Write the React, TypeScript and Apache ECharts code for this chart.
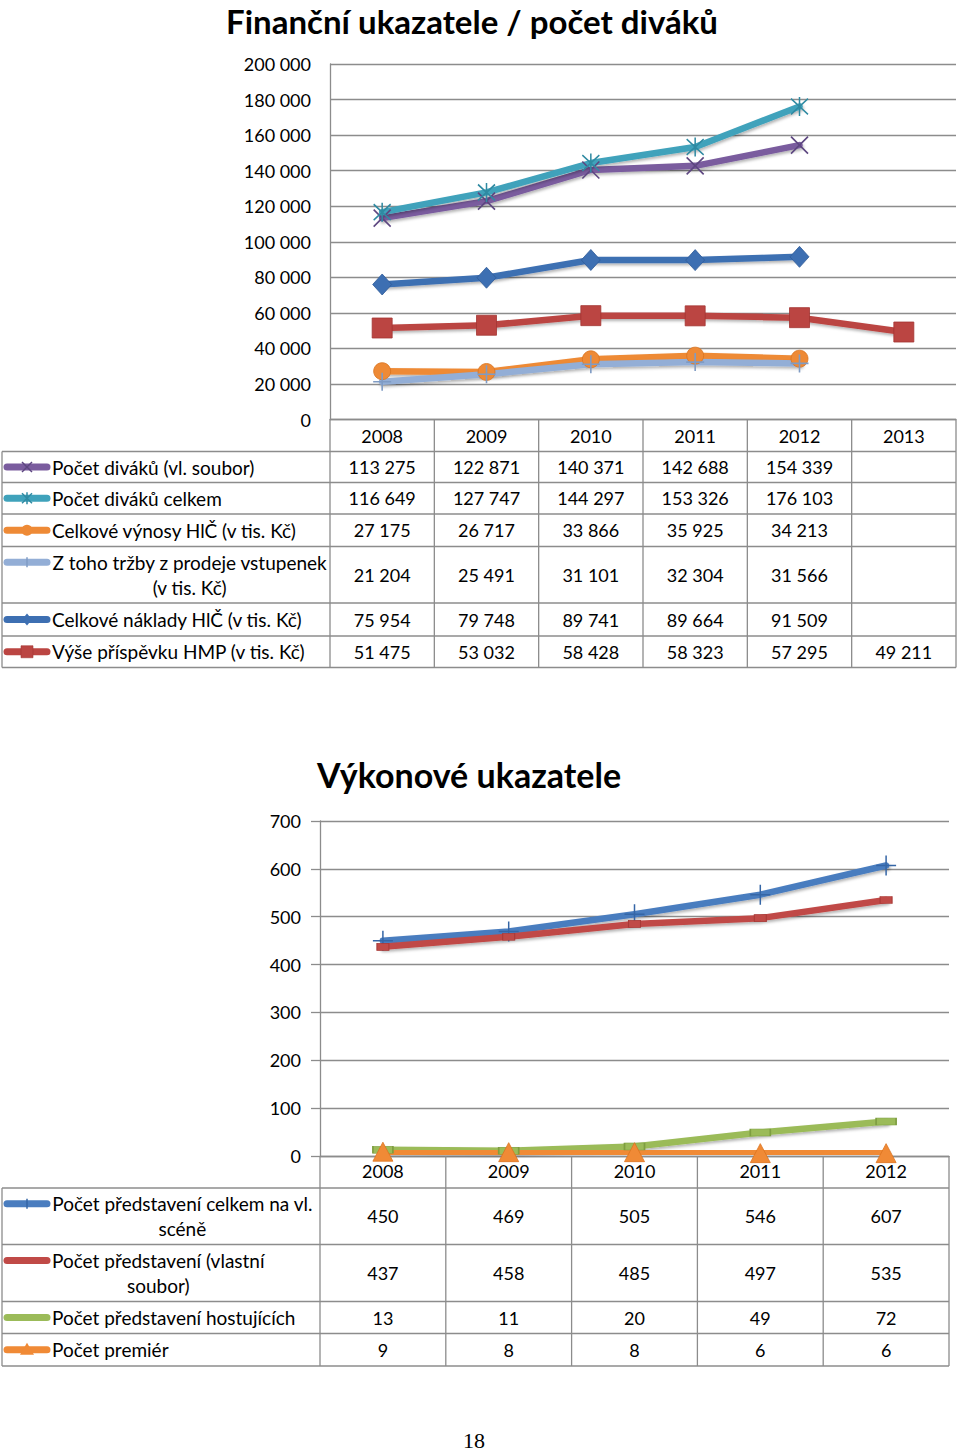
import React, { useEffect, useRef } from "react";
import * as echarts from "echarts";

// ---------- DATA ----------
const finYears = ["2008", "2009", "2010", "2011", "2012", "2013"];
const divakuVl = [113275, 122871, 140371, 142688, 154339, null];
const divakuCelkem = [116649, 127747, 144297, 153326, 176103, null];
const vynosy = [27175, 26717, 33866, 35925, 34213, null];
const trzby = [21204, 25491, 31101, 32304, 31566, null];
const naklady = [75954, 79748, 89741, 89664, 91509, null];
const prispevek = [51475, 53032, 58428, 58323, 57295, 49211];
const finMax = 200000;
const finStep = 20000;

const vykYears = ["2008", "2009", "2010", "2011", "2012"];
const predstaveniCelkem = [450, 469, 505, 546, 607];
const predstaveniVlastni = [437, 458, 485, 497, 535];
const predstaveniHost = [13, 11, 20, 49, 72];
const premiery = [9, 8, 8, 6, 6];
const vykMax = 700;
const vykStep = 100;

const finTitle = "Finanční ukazatele / počet diváků";
const vykTitle = "Výkonové ukazatele";
const pageNumber = "18";

// ---------- STYLE / LAYOUT ----------
const FONT = "Lato, 'Open Sans', sans-serif";
const GRID_COLOR = "#8c8c8c";
const FS = 18; // numbers
const FS_LBL = 19; // row labels

type Marker = "x" | "star" | "circle" | "plus" | "diamond" | "square" | "bplus" | "dash" | "bar" | "triangle";

const finSeries = [
  { lines: ["Počet diváků (vl. soubor)"], data: divakuVl, color: "#7a5c9e", dark: "#5d4680", marker: "x" as Marker },
  { lines: ["Počet diváků celkem"], data: divakuCelkem, color: "#3fa2bb", dark: "#2f8aa2", marker: "star" as Marker },
  { lines: ["Celkové výnosy HlČ (v tis. Kč)"], data: vynosy, color: "#ee8a36", dark: "#d9741f", marker: "circle" as Marker },
  { lines: ["Z toho tržby z prodeje vstupenek", "(v tis. Kč)"], data: trzby, color: "#93aed6", dark: "#7f9bc4", marker: "plus" as Marker },
  { lines: ["Celkové náklady HlČ (v tis. Kč)"], data: naklady, color: "#3d6fb2", dark: "#2f5b99", marker: "diamond" as Marker },
  { lines: ["Výše příspěvku HMP (v tis. Kč)"], data: prispevek, color: "#bb4542", dark: "#a33532", marker: "square" as Marker },
];

const vykSeries = [
  { lines: ["Počet představení celkem na vl.", "scéně"], data: predstaveniCelkem, color: "#4a7dbf", dark: "#3566a6", marker: "bplus" as Marker },
  { lines: ["Počet představení (vlastní", "soubor)"], data: predstaveniVlastni, color: "#c04a47", dark: "#a83a37", marker: "dash" as Marker },
  { lines: ["Počet představení hostujících"], data: predstaveniHost, color: "#9bbb59", dark: "#7e9e41", marker: "bar" as Marker },
  { lines: ["Počet premiér"], data: premiery, color: "#f08a36", dark: "#dc7420", marker: "triangle" as Marker },
];

// chart 1 geometry
const G1 = { left: 330, top: 64, width: 626, height: 355.5 };
const T1rows = [451.5, 482.5, 514, 546.5, 603, 636, 667.5];
// chart 2 geometry
const G2 = { left: 320, top: 821, width: 629, height: 335 };
const T2rows = [1188, 1244.5, 1301.5, 1333.5, 1366];

function fmt(v: number | null) {
  if (v == null) return "";
  return String(v).replace(/\B(?=(\d{3})+(?!\d))/g, " ");
}

let measureCtx: CanvasRenderingContext2D | null = null;
function textWidth(s: string) {
  if (!measureCtx) measureCtx = document.createElement("canvas").getContext("2d");
  measureCtx!.font = `${FS_LBL}px ${FONT}`;
  return measureCtx!.measureText(s).width;
}

function symbolFor(m: Marker, color: string, dark: string): any {
  switch (m) {
    case "x":
      return { symbol: "path://M0,0L10,10M10,0L0,10", symbolSize: 17, itemStyle: { color: "none", borderColor: dark, borderWidth: 1.6 } };
    case "star":
      return { symbol: "path://M0,1L10,11M10,1L0,11M5,0L5,12", symbolSize: [17, 19], itemStyle: { color: "none", borderColor: dark, borderWidth: 1.6 } };
    case "circle":
      return { symbol: "circle", symbolSize: 17, itemStyle: { color, borderColor: dark, borderWidth: 0.8 } };
    case "plus":
      return { symbol: "path://M5,0L5,10M0,5L10,5", symbolSize: 18, itemStyle: { color: "none", borderColor: dark, borderWidth: 1.6 } };
    case "diamond":
      return { symbol: "diamond", symbolSize: [19, 21], itemStyle: { color, borderColor: dark, borderWidth: 0.8 } };
    case "square":
      return { symbol: "rect", symbolSize: 20, itemStyle: { color, borderColor: dark, borderWidth: 0.8 } };
    case "bplus":
      return { symbol: "path://M5,0L5,10M0,5L10,5", symbolSize: 20, itemStyle: { color: "none", borderColor: dark, borderWidth: 1.5 } };
    case "dash":
      return { symbol: "rect", symbolSize: [12, 7], itemStyle: { color, borderColor: dark, borderWidth: 0.8 } };
    case "bar":
      return { symbol: "rect", symbolSize: [20, 7], itemStyle: { color, borderColor: dark, borderWidth: 1 } };
    case "triangle":
      return { symbol: "triangle", symbolSize: [20, 19], itemStyle: { color, borderColor: dark, borderWidth: 0.8 } };
  }
}

function legendKey(m: Marker, color: string, dark: string, y: number): any[] {
  const els: any[] = [
    { type: "line", shape: { x1: 7, y1: y, x2: 47, y2: y }, style: { stroke: color, lineWidth: 7, lineCap: "round" }, z: 10 },
  ];
  const cx = 27;
  const s = 5;
  const thin = { stroke: dark, lineWidth: 1.5 };
  if (m === "x") {
    els.push({ type: "line", shape: { x1: cx - s, y1: y - s, x2: cx + s, y2: y + s }, style: thin, z: 11 });
    els.push({ type: "line", shape: { x1: cx + s, y1: y - s, x2: cx - s, y2: y + s }, style: thin, z: 11 });
  } else if (m === "star") {
    els.push({ type: "line", shape: { x1: cx - s, y1: y - s, x2: cx + s, y2: y + s }, style: thin, z: 11 });
    els.push({ type: "line", shape: { x1: cx + s, y1: y - s, x2: cx - s, y2: y + s }, style: thin, z: 11 });
    els.push({ type: "line", shape: { x1: cx, y1: y - s - 1, x2: cx, y2: y + s + 1 }, style: thin, z: 11 });
  } else if (m === "plus" || m === "bplus") {
    els.push({ type: "line", shape: { x1: cx, y1: y - s, x2: cx, y2: y + s }, style: thin, z: 11 });
  } else if (m === "circle") {
    els.push({ type: "circle", shape: { cx, cy: y, r: 5.5 }, style: { fill: color }, z: 11 });
  } else if (m === "diamond") {
    els.push({ type: "polygon", shape: { points: [[cx, y - 6], [cx + 5, y], [cx, y + 6], [cx - 5, y]] }, style: { fill: color }, z: 11 });
  } else if (m === "square") {
    els.push({ type: "rect", shape: { x: cx - 6, y: y - 6, width: 12, height: 12 }, style: { fill: color, stroke: dark, lineWidth: 0.6 }, z: 11 });
  } else if (m === "triangle") {
    els.push({ type: "polygon", shape: { points: [[cx, y - 7], [cx + 7, y + 5], [cx - 7, y + 5]] }, style: { fill: color }, z: 11 });
  }
  return els;
}

function tableGraphics(
  series: { lines: string[]; data: (number | null)[]; color: string; dark: string; marker: Marker }[],
  nCats: number,
  G: { left: number; top: number; width: number; height: number },
  rows: number[]
): any[] {
  const els: any[] = [];
  const axisY = G.top + G.height;
  const right = G.left + G.width;
  const colW = G.width / nCats;
  const lineStyle = { stroke: GRID_COLOR, lineWidth: 1.3 };
  rows.forEach((y) => {
    els.push({ type: "line", shape: { x1: 2, y1: y, x2: right, y2: y }, style: lineStyle, z: 5 });
  });
  els.push({ type: "line", shape: { x1: 2, y1: rows[0], x2: 2, y2: rows[rows.length - 1] }, style: lineStyle, z: 5 });
  for (let i = 0; i <= nCats; i++) {
    const x = G.left + i * colW;
    els.push({ type: "line", shape: { x1: x, y1: axisY, x2: x, y2: rows[rows.length - 1] }, style: lineStyle, z: 5 });
  }
  series.forEach((s, r) => {
    const y0 = rows[r];
    const y1 = rows[r + 1];
    const cy = (y0 + y1) / 2;
    const lh = 25;
    const n = s.lines.length;
    const firstY = cy - ((n - 1) * lh) / 2;
    els.push(...legendKey(s.marker, s.color, s.dark, firstY));
    if (n === 1) {
      els.push({ type: "text", x: 52, y: cy, style: { text: s.lines[0], font: `${FS_LBL}px ${FONT}`, fill: "#000", align: "left", verticalAlign: "middle" }, z: 11 });
    } else {
      const w = Math.max(...s.lines.map(textWidth));
      const cx = 52 + w / 2;
      s.lines.forEach((ln, k) => {
        els.push({ type: "text", x: cx, y: firstY + k * lh, style: { text: ln, font: `${FS_LBL}px ${FONT}`, fill: "#000", align: "center", verticalAlign: "middle" }, z: 11 });
      });
    }
    s.data.forEach((v, i) => {
      if (v == null) return;
      els.push({ type: "text", x: G.left + (i + 0.5) * colW, y: cy, style: { text: fmt(v), font: `${FS}px ${FONT}`, fill: "#000", align: "center", verticalAlign: "middle" }, z: 11 });
    });
  });
  return els;
}

export default function App() {
  const ref = useRef<HTMLDivElement>(null);

  useEffect(() => {
    if (!ref.current) return;
    const chart = echarts.init(ref.current, undefined, { renderer: "svg" });

    const lineSeries = (s: any, idx: number) => ({
      type: "line",
      xAxisIndex: idx,
      yAxisIndex: idx,
      data: s.data,
      connectNulls: false,
      ...symbolFor(s.marker, s.color, s.dark),
      lineStyle: {
        color: s.color,
        width: 6.5,
        cap: "round",
        join: "round",
        shadowColor: "rgba(0,0,0,0.3)",
        shadowBlur: 3,
        shadowOffsetX: 1,
        shadowOffsetY: 2,
      },
      emphasis: { disabled: true },
      silent: true,
    });

    const valueAxis = (idx: number, max: number, step: number, tick: boolean) => ({
      type: "value",
      gridIndex: idx,
      min: 0,
      max,
      interval: step,
      axisLine: { show: true, lineStyle: { color: GRID_COLOR, width: 1.3 } },
      axisTick: { show: tick, length: 9, lineStyle: { color: GRID_COLOR, width: 1.3 } },
      splitLine: { show: true, lineStyle: { color: GRID_COLOR, width: 1.3 } },
      axisLabel: {
        color: "#000",
        fontSize: FS,
        fontFamily: FONT,
        margin: 19,
        formatter: (v: number) => fmt(v),
      },
    });

    const catAxis = (idx: number, cats: string[], margin: number) => ({
      type: "category",
      gridIndex: idx,
      data: cats,
      boundaryGap: true,
      axisLine: { show: true, lineStyle: { color: GRID_COLOR, width: 1.3 } },
      axisTick: { show: false },
      axisLabel: { color: "#000", fontSize: FS, fontFamily: FONT, margin, interval: 0 },
    });

    chart.setOption({
      animation: false,
      backgroundColor: "#ffffff",
      grid: [
        { left: G1.left, top: G1.top, width: G1.width, height: G1.height, containLabel: false },
        { left: G2.left, top: G2.top, width: G2.width, height: G2.height, containLabel: false },
      ],
      xAxis: [catAxis(0, finYears, 7), catAxis(1, vykYears, 6)],
      yAxis: [valueAxis(0, finMax, finStep, false), valueAxis(1, vykMax, vykStep, true)],
      series: [
        ...finSeries.map((s) => lineSeries(s, 0)),
        ...vykSeries.map((s) => lineSeries(s, 1)),
      ],
      graphic: [
        {
          type: "text",
          x: 472,
          y: 21,
          style: { text: finTitle, font: `bold 33px ${FONT}`, fill: "#000", align: "center", verticalAlign: "middle" },
        },
        {
          type: "text",
          x: 469,
          y: 774,
          style: { text: vykTitle, font: `bold 34px ${FONT}`, fill: "#000", align: "center", verticalAlign: "middle" },
        },
        ...tableGraphics(finSeries, finYears.length, G1, T1rows),
        ...tableGraphics(vykSeries, vykYears.length, G2, T2rows),
        {
          type: "text",
          x: 474,
          y: 1440,
          style: { text: pageNumber, font: `22px 'Liberation Serif', serif`, fill: "#000", align: "center", verticalAlign: "middle" },
        },
      ],
    });

    return () => chart.dispose();
  }, []);

  return (
    <div
      ref={ref}
      style={{ position: "absolute", left: 0, top: 0, width: 960, height: 1451, background: "#fff" }}
    />
  );
}
